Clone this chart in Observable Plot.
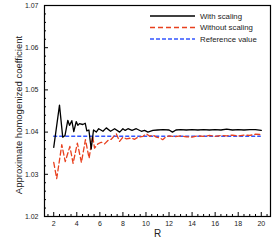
<!DOCTYPE html>
<html><head><meta charset="utf-8">
<script src="https://cdn.jsdelivr.net/npm/d3@7"></script>
<script src="https://cdn.jsdelivr.net/npm/@observablehq/plot@0.6"></script>
<style>
body{margin:0;background:#fff}
svg{font-family:"Liberation Sans",Arial,Helvetica,sans-serif}
</style>
</head><body><div id="chart"></div>
<script>
// ---- data ----
const seriesNames = ["With scaling", "Without scaling", "Reference value"];
const rWith = [2.0, 2.5, 2.78, 2.98, 3.22, 3.37, 3.57, 3.74, 3.95, 4.09, 4.23, 4.52, 4.73, 4.87, 5.05, 5.25, 5.45, 5.69, 5.9, 6.27, 6.56, 6.93, 7.28, 7.72, 8.0, 8.2, 8.44, 8.79, 9.16, 9.6, 9.88, 10.17, 10.6, 11.0, 11.5, 12.0, 12.3, 12.6, 13.0, 13.5, 14.0, 14.5, 15.0, 15.5, 16.0, 16.5, 17.0, 17.5, 18.0, 18.5, 19.0, 19.5, 20.0];
const valWith = [1.0364, 1.0464, 1.0388, 1.0392, 1.0428, 1.0416, 1.0427, 1.0401, 1.0425, 1.0416, 1.0420, 1.0418, 1.0421, 1.0403, 1.0405, 1.0360, 1.0405, 1.0400, 1.0408, 1.0402, 1.0410, 1.0402, 1.0408, 1.0400, 1.0408, 1.0404, 1.0408, 1.0404, 1.0408, 1.0402, 1.0404, 1.0400, 1.0404, 1.0405, 1.0406, 1.0405, 1.0400, 1.0405, 1.0406, 1.0405, 1.0406, 1.0405, 1.0406, 1.0405, 1.0406, 1.0405, 1.0407, 1.0405, 1.0406, 1.0405, 1.0406, 1.0406, 1.0404];
const rWithout = [2.0, 2.26, 2.7, 3.0, 3.4, 3.68, 4.05, 4.4, 4.75, 5.07, 5.37, 5.54, 5.83, 6.12, 6.41, 6.70, 6.99, 7.28, 7.43, 7.71, 8.0, 8.3, 8.73, 9.02, 9.3, 9.74, 10.03, 10.32, 10.6, 10.9, 11.2, 11.45, 11.75, 12.0, 12.5, 13.0, 13.5, 14.0, 14.5, 15.0, 15.5, 16.0, 16.5, 17.0, 17.5, 18.0, 18.5, 19.0, 19.5, 20.0];
const valWithout = [1.0328, 1.0290, 1.0370, 1.0330, 1.0366, 1.0326, 1.0374, 1.0328, 1.0382, 1.0338, 1.0392, 1.0362, 1.0372, 1.0376, 1.0372, 1.0380, 1.0383, 1.0392, 1.0396, 1.0378, 1.0388, 1.0384, 1.0386, 1.0383, 1.0388, 1.0390, 1.0396, 1.0390, 1.0393, 1.0388, 1.0386, 1.0382, 1.0389, 1.0391, 1.0389, 1.0391, 1.0389, 1.0388, 1.0391, 1.0390, 1.0392, 1.0390, 1.0392, 1.0391, 1.0393, 1.0391, 1.0393, 1.0392, 1.0395, 1.0394];
const refValue = 1.039;
const xTicks = [2, 4, 6, 8, 10, 12, 14, 16, 18, 20];
const yTicks = [1.02, 1.03, 1.04, 1.05, 1.06, 1.07];
const xLabel = "R";
const yLabel = "Approximate homogenized coefficient";

// ---- layout ----
const W = 278, H = 250, mL = 44, mR = 8, mT = 5, mB = 34;
const pw = W - mL - mR, ph = H - mT - mB;
const colors = ["#000000", "#e8401e", "#3355ff"];
const dashes = [null, "5,3", "4,2"];

const withData = rWith.map((r, i) => ({r, v: valWith[i]}));
const withoutData = rWithout.map((r, i) => ({r, v: valWithout[i]}));
const xMinor = d3.range(3, 42).map(k => k / 2).filter(d => !xTicks.includes(d));
const yMinor = d3.range(0, 26).map(k => 1.02 + k * 0.002).filter(d => !yTicks.some(t => Math.abs(t - d) < 1e-9));

const chart = Plot.plot({
  width: W, height: H,
  marginLeft: mL, marginRight: mR, marginTop: mT, marginBottom: mB,
  style: {fontFamily: '"Liberation Sans", Arial, sans-serif', background: "#fff", color: "#222"},
  x: {domain: [1.2, 20.8]},
  y: {domain: [1.02, 1.07]},
  marks: [
    Plot.tickX(xMinor, {x: d => d, insetTop: ph - 2, stroke: "#000"}),
    Plot.tickX(xTicks, {x: d => d, insetTop: ph - 4, stroke: "#000"}),
    Plot.tickY(yMinor, {y: d => d, insetRight: pw - 2, stroke: "#000"}),
    Plot.tickY(yTicks, {y: d => d, insetRight: pw - 4, stroke: "#000"}),
    Plot.axisX({ticks: xTicks, tickSize: 0, tickPadding: 5, fontSize: 7, label: null, fill: "#222"}),
    Plot.axisY({ticks: yTicks, tickSize: 0, tickPadding: 6, fontSize: 7, label: null, tickFormat: d3.format(".2f"), fill: "#222"}),
    Plot.text([xLabel], {frameAnchor: "bottom", textAnchor: "middle", dy: 20, fontSize: 10, fill: "#222"}),
    Plot.text([yLabel], {frameAnchor: "left", textAnchor: "middle", rotate: -90, dx: -26, dy: 4, fontSize: 9.5, fill: "#222"}),
    Plot.ruleY([refValue], {y: d => d, x1: d3.min(rWith), x2: d3.max(rWith), stroke: colors[2], strokeWidth: 1.5, strokeDasharray: dashes[2]}),
    Plot.line(withoutData, {x: "r", y: "v", stroke: colors[1], strokeWidth: 1.3, strokeDasharray: dashes[1]}),
    Plot.line(withData, {x: "r", y: "v", stroke: colors[0], strokeWidth: 1.3}),
    Plot.frame({stroke: "#000", strokeWidth: 1.2})
  ]
});
document.getElementById("chart").appendChild(chart);

// ---- legend inside the frame, top right ----
const svg = d3.select(chart);
const lg = svg.append("g").attr("text-anchor", "start");
const rowY = [16, 27.5, 39];
seriesNames.forEach((name, i) => {
  lg.append("line").attr("x1", 150).attr("x2", 195).attr("y1", rowY[i]).attr("y2", rowY[i])
    .attr("stroke", colors[i]).attr("stroke-width", i === 0 ? 1.3 : 1.4)
    .attr("stroke-dasharray", dashes[i]);
  lg.append("text").attr("x", 200).attr("y", rowY[i]).attr("dy", "0.35em")
    .attr("text-anchor", "start")
    .attr("font-size", 7.8).attr("fill", "#222").text(name);
});
</script>
</body></html>
